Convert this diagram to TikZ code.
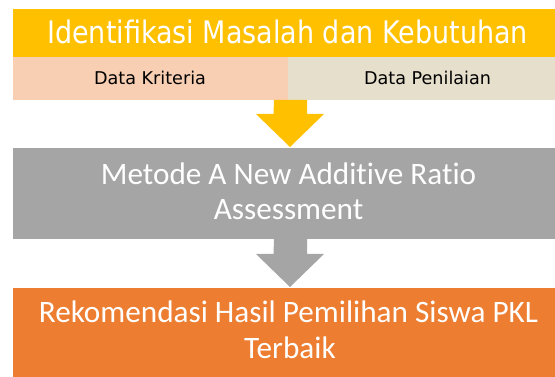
\documentclass[tikz,border=0pt]{standalone}
\usepackage{fontspec}
\setmainfont{Carlito}[Ligatures=NoCommon]
\newfontfamily\tahfont{DejaVu Sans}[FakeStretch=0.87]
\newfontfamily\datafont{DejaVu Sans}
\usetikzlibrary{calc}
\definecolor{cYel}{HTML}{FFC000}
\definecolor{cPeach}{HTML}{F8CFB2}
\definecolor{cBeige}{HTML}{E6DFCB}
\definecolor{cGray}{HTML}{A5A5A5}
\definecolor{cOrange}{HTML}{ED7D31}
\tikzset{
  block/.style={rectangle, draw=none, inner sep=0pt, outer sep=0pt, anchor=north west},
  label text/.style={inner sep=0pt, outer sep=0pt, anchor=base, text=white},
  big text/.style={label text, font=\fontsize{31.2}{36}\selectfont},
  data text/.style={inner sep=0pt, outer sep=0pt, anchor=base, text=black, font=\datafont\fontsize{17.6}{20}\selectfont},
}
\begin{document}
\begin{tikzpicture}[x=1pt,y=-1pt]
\useasboundingbox (0,0) rectangle (555,377);
% blocks
\node[block, fill=cYel, minimum width=542pt, minimum height=48pt] (title) at (13,9) {};
\node[block, fill=cPeach, minimum width=275pt, minimum height=43pt] (kri) at (13,57) {};
\node[block, fill=cBeige, minimum width=267pt, minimum height=43pt] (pen) at (288,57) {};
\node[block, fill=cGray, minimum width=542pt, minimum height=91pt] (method) at (13,148) {};
\node[block, fill=cOrange, minimum width=542pt, minimum height=89pt] (result) at (13,288) {};
% texts
\node[label text, font=\tahfont\fontsize{31}{36}\selectfont] (titletxt) at (287.5,43.3) {Identifikasi Masalah dan Kebutuhan};
\node[data text] (kritxt) at (150,85) {Data Kriteria};
\node[data text] (pentxt) at (427.5,85) {Data Penilaian};
\node[big text] (m1) at (288.5,185) {Metode A New Additive Ratio};
\node[big text] (m2) at (288.5,220) {Assessment};
\node[big text] (r1) at (288.5,323) {Rekomendasi Hasil Pemilihan Siswa PKL};
\node[big text] (r2) at (290,358) {Terbaik};
% block arrows
\coordinate (a1s) at (290.5,100);
\coordinate (a1t) at (290,147);
\fill[cYel] (a1s) ++(-16.5,0) -- ++(33,0) -- ++(0,14) -- ++(17,0) -- (a1t) -- ($(a1s)+(-34.5,14)$) -- ++(17.5,0) -- cycle;
\coordinate (a2s) at (290.5,239);
\coordinate (a2t) at (290,287);
\fill[cGray] (a2s) ++(-16.5,0) -- ++(33,0) -- ++(0,15) -- ++(17,0) -- (a2t) -- ($(a2s)+(-34.5,15)$) -- ++(17.5,0) -- cycle;
\end{tikzpicture}
\end{document}
